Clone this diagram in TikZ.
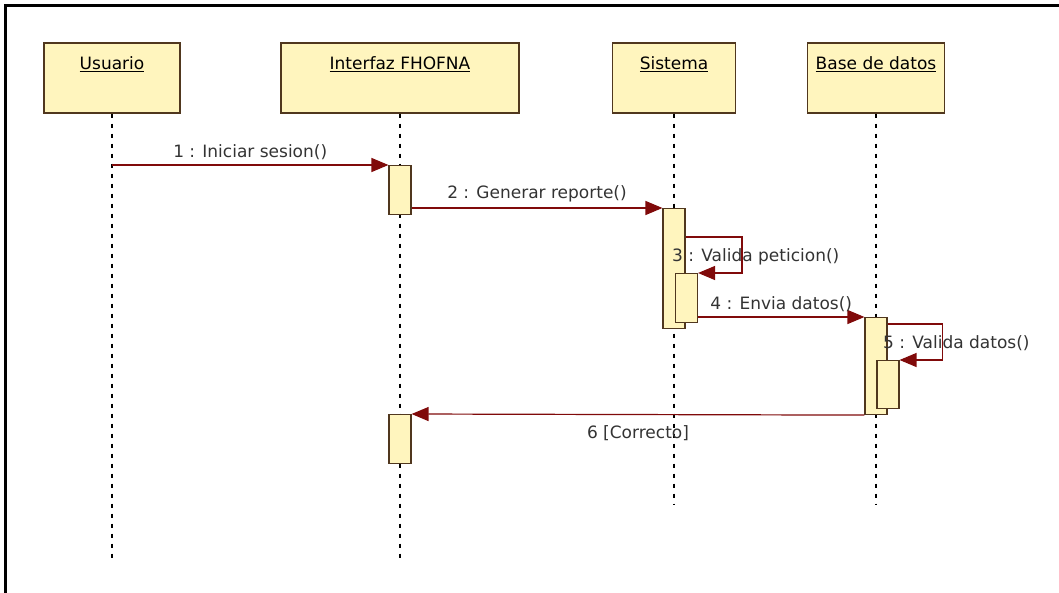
\documentclass[tikz,border=0pt]{standalone}
\usepackage{fontspec}
\setmainfont{DejaVu Sans}
\usepackage{xcolor}
\usetikzlibrary{arrows.meta, positioning, calc}

\definecolor{boxfill}{RGB}{255,245,190}
\definecolor{boxline}{RGB}{80,55,30}
\definecolor{msgred}{RGB}{128,10,10}

\begin{document}
\begin{tikzpicture}[
    x=1pt, y=-1pt,
    font=\fontsize{17}{20}\selectfont,
    objbox/.style={rectangle, draw=boxline, line width=1.3pt, fill=boxfill, minimum height=70pt, inner sep=4pt, text height=23pt, text depth=39pt},
    actbox/.style={rectangle, draw=boxline, line width=1.1pt, fill=boxfill, minimum width=22pt, inner sep=0pt, anchor=north},
    lifeline/.style={dashed, dash pattern=on 4pt off 6pt, line width=1.3pt},
    msg/.style={-{Triangle[length=17pt, width=14pt]}, draw=msgred, line width=1.2pt},
    msglabel/.style={text=black!80, inner sep=2pt}
]
\useasboundingbox (0,0) rectangle (1059,593);

% frame
\draw[line width=3pt] (5,593) -- (5,6) -- (1059,6);

% objects
\node[objbox, minimum width=136pt] (usr) at (112,78) {\underline{Usuario}};
\node[objbox, minimum width=238pt] (gui) at (400,78) {\underline{Interfaz FHOFNA}};
\node[objbox, minimum width=123pt] (sys) at (674,78) {\underline{Sistema}};
\node[objbox, minimum width=137pt] (db) at (876,78) {\underline{Base de datos}};

% lifeline ends
\coordinate (usr-end) at (usr.south |- 0,563);
\coordinate (gui-end) at (gui.south |- 0,563);
\coordinate (sys-end) at (sys.south |- 0,505);
\coordinate (db-end) at (db.south |- 0,505);

\draw[lifeline] (usr.south) -- (usr-end);
\draw[lifeline] (gui.south) -- (gui-end);
\draw[lifeline] (sys.south) -- (sys-end);
\draw[lifeline] (db.south) -- (db-end);

% activations
\node[actbox, minimum height=49pt] (gui-act1) at (400,165) {};
\node[actbox, minimum height=120pt] (sys-act1) at (674,208) {};
\node[actbox, minimum height=49pt] (sys-act2) at (686.5,273) {};
\node[actbox, minimum height=97pt] (db-act1) at (876,317) {};
\node[actbox, minimum height=48pt] (db-act2) at (888,360) {};
\node[actbox, minimum height=49pt] (gui-act2) at (400,414) {};

% messages
\draw[msg] (usr.south |- gui-act1.north west) -- node[msglabel, midway, above=3pt] {1 : Iniciar sesion()} (gui-act1.north west);
\draw[msg] (gui-act1.east |- sys-act1.north west) -- node[msglabel, midway, above=3pt] {2 : Generar reporte()} (sys-act1.north west);
\draw[msg] ([yshift=-29pt]sys-act1.north east) -| ([xshift=44pt]sys-act2.north east) -- (sys-act2.north east);
\node[msglabel, anchor=west] (lbl3) at (670,257) {3 : Valida peticion()};
\draw[msg] (sys-act2.east |- db-act1.north west) -- node[msglabel, midway, above=3pt] {4 : Envia datos()} (db-act1.north west);
\draw[msg] ([yshift=-7pt]db-act1.north east) -| ([xshift=43pt]db-act2.north east) -- (db-act2.north east);
\node[msglabel, anchor=west] (lbl5) at (881,343) {5 : Valida datos()};
\draw[msg] (db-act1.south west) -- node[msglabel, midway, below=8pt] {6 [Correcto]} (gui-act2.north east);

\end{tikzpicture}
\end{document}
